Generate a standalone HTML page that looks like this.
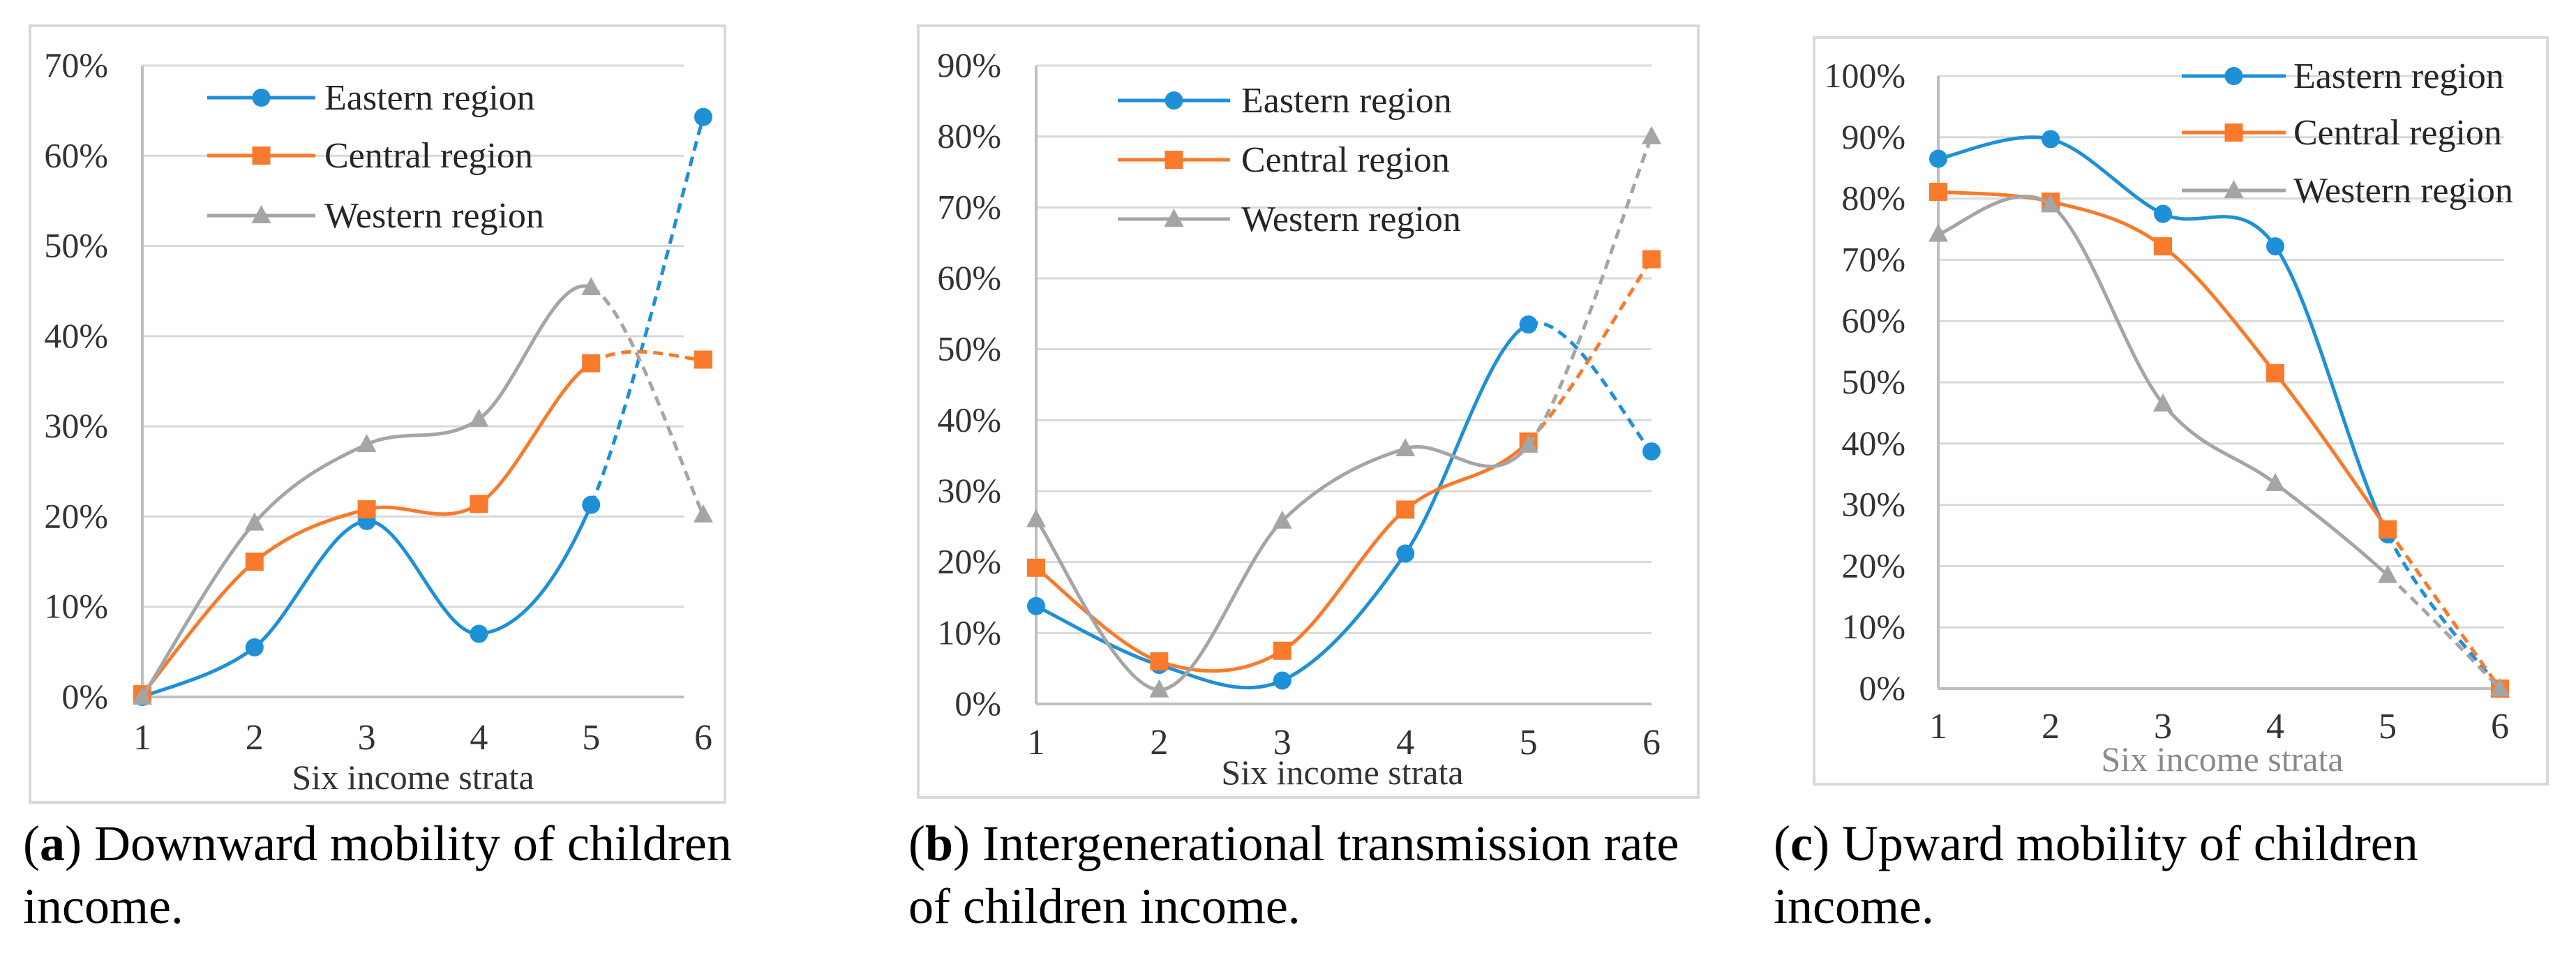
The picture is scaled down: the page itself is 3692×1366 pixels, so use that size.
<!DOCTYPE html>
<html><head><meta charset="utf-8">
<style>
html,body{margin:0;padding:0;background:#fff;}
svg{display:block;}
svg text{font-family:"Liberation Serif","DejaVu Serif",serif;}
</style></head>
<body>
<svg id="fig" width="3692" height="1366" viewBox="0 0 3692 1366" xmlns="http://www.w3.org/2000/svg" font-family="Liberation Serif, DejaVu Serif, serif"></svg>
<script>
const categories = [1, 2, 3, 4, 5, 6];
const seriesNames = ["Eastern region", "Central region", "Western region"];
// panel (a) downward mobility
const aEastern = [0, 5.5, 19.5, 7, 21.3, 64.3];
const aCentral = [0.3, 15, 20.8, 21.4, 37, 37.4];
const aWestern = [0, 19.3, 28, 30.8, 45.4, 20.2];
const aTicks = [0, 10, 20, 30, 40, 50, 60, 70];
// panel (b) intergenerational transmission rate
const bEastern = [13.8, 5.5, 3.3, 21.2, 53.5, 35.6];
const bCentral = [19.2, 6, 7.5, 27.4, 37, 62.7];
const bWestern = [26, 2, 25.8, 36, 36.5, 80];
const bTicks = [0, 10, 20, 30, 40, 50, 60, 70, 80, 90];
// panel (c) upward mobility
const cEastern = [86.5, 89.7, 77.5, 72.2, 25.2, 0];
const cCentral = [81.1, 79.5, 72.2, 51.5, 26, 0];
const cWestern = [74.2, 79, 46.5, 33.5, 18.5, 0];
const cTicks = [0, 10, 20, 30, 40, 50, 60, 70, 80, 90, 100];

const NS = "http://www.w3.org/2000/svg";
const svg = document.getElementById("fig");
const colors = ["#1E90D8", "#F97A2A", "#A5A5A5"];
const markers = ["circle", "square", "triangle"];
const FF = "Liberation Serif, DejaVu Serif, serif";

function mk(tag, attrs, parent) {
  const e = document.createElementNS(NS, tag);
  for (const k in attrs) e.setAttribute(k, attrs[k]);
  if (tag === "text") e.setAttribute("font-family", FF);
  (parent || svg).appendChild(e);
  return e;
}
function marker(g, type, x, y, color) {
  let m;
  if (type === "circle") m = mk("circle", {cx: x, cy: y, r: 13, fill: color}, g);
  else if (type === "square") m = mk("rect", {x: x - 13, y: y - 13, width: 26, height: 26, fill: color}, g);
  else m = mk("polygon", {points: `${x},${y - 15} ${x + 14},${y + 11} ${x - 14},${y + 11}`, fill: color}, g);
  return m;
}
function segPath(P, i) {
  const p0 = P[Math.max(i - 1, 0)], p1 = P[i], p2 = P[i + 1], p3 = P[Math.min(i + 2, P.length - 1)];
  const t = 6;
  const c1 = [p1[0] + (p2[0] - p0[0]) / t, p1[1] + (p2[1] - p0[1]) / t];
  const c2 = [p2[0] - (p3[0] - p1[0]) / t, p2[1] - (p3[1] - p1[1]) / t];
  return `C${c1[0]},${c1[1]} ${c2[0]},${c2[1]} ${p2[0]},${p2[1]}`;
}

function panel(cfg) {
  const g = mk("g", {});
  
  
  const fr = mk("rect", {x: cfg.frame[0], y: cfg.frame[1], width: cfg.frame[2] - cfg.frame[0], height: cfg.frame[3] - cfg.frame[1], fill: "none", stroke: "#d9d9d9", "stroke-width": 4}, g);
  
  
  const maxT = cfg.ticks[cfg.ticks.length - 1];
  const yS = v => cfg.y0 + (cfg.yTop - cfg.y0) * v / maxT;
  const xS = c => cfg.x1 + (cfg.x6 - cfg.x1) * (c - 1) / (categories.length - 1);
  cfg.ticks.forEach(t => {
    if (t > 0) {
      const gl = mk("line", {x1: cfg.x1, x2: cfg.gridEnd, y1: yS(t), y2: yS(t), stroke: "#d9d9d9", "stroke-width": 3}, g);
      
      
    }
    const tl = mk("text", {x: cfg.labelRight, y: yS(t) + 16, "text-anchor": "end", "font-size": 50, fill: "#333"}, g);
    tl.textContent = t + "%";
    
    
  });
  const xa = mk("line", {x1: cfg.x1, x2: cfg.gridEnd, y1: cfg.y0, y2: cfg.y0, stroke: "#bfbfbf", "stroke-width": 4}, g);
  
  
  const ya = mk("line", {x1: cfg.x1, x2: cfg.x1, y1: cfg.yTop, y2: cfg.y0, stroke: "#bfbfbf", "stroke-width": 4}, g);
  
  
  categories.forEach(c => {
    const t = mk("text", {x: xS(c), y: cfg.xLabelY + 17, "text-anchor": "middle", "font-size": 52, fill: "#333"}, g);
    t.textContent = c;
    
    
  });
  const xt = mk("text", {x: cfg.titleX, y: cfg.titleY + 16, "text-anchor": "middle", "font-size": 50, fill: cfg.titleColor}, g);
  xt.textContent = "Six income strata";
  
  

  cfg.series.forEach((vals, si) => {
    const P = vals.map((v, i) => [xS(categories[i]), yS(v)]);
    let d = `M${P[0][0]},${P[0][1]}`;
    for (let i = 0; i < P.length - 2; i++) d += segPath(P, i);
    const solid = mk("path", {d: d, fill: "none", stroke: colors[si], "stroke-width": 5}, g);
    
    
    const n = P.length - 2;
    const dd = `M${P[n][0]},${P[n][1]}` + segPath(P, n);
    const dash = mk("path", {d: dd, fill: "none", stroke: colors[si], "stroke-width": 5, "stroke-dasharray": "14 9"}, g);
    
    
    P.forEach(p => {
      const m = marker(g, markers[si], p[0], p[1], colors[si]);
      
      
    });
  });

  seriesNames.forEach((nm, si) => {
    const ly = cfg.legY[si];
    const ll = mk("line", {x1: cfg.legLine[0], x2: cfg.legLine[1], y1: ly, y2: ly, stroke: colors[si], "stroke-width": 5}, g);
    
    
    const lm = marker(g, markers[si], (cfg.legLine[0] + cfg.legLine[1]) / 2, ly, colors[si]);
    
    
    const lt = mk("text", {x: cfg.legText, y: ly + 17, "font-size": 52, fill: "#262626"}, g);
    lt.textContent = nm;
    
    
  });

  cfg.caption.forEach((line, i) => {
    const ct = mk("text", {x: cfg.capX, y: 1233 + i * 90, "font-size": 72, fill: "#000"}, g);
    if (i === 0) {
      const a = mk("tspan", {}, ct); a.textContent = "(";
      const b = mk("tspan", {"font-weight": "bold"}, ct); b.textContent = cfg.letter;
      const c = mk("tspan", {}, ct); c.textContent = ") " + line;
    } else ct.textContent = line;
    
    
  });
}

panel({name: "panel-a-downward-mobility", frame: [43, 37, 1039, 1150], ticks: aTicks, y0: 999, yTop: 94, x1: 204, x6: 1008, gridEnd: 980,
  labelRight: 155, xLabelY: 1057, titleX: 592, titleY: 1115, titleColor: "#333",
  series: [aEastern, aCentral, aWestern], legY: [140, 223, 309], legLine: [297, 452], legText: 465,
  capX: 33, letter: "a", caption: ["Downward mobility of children", "income."]});
panel({name: "panel-b-transmission-rate", frame: [1316, 37, 2434, 1143], ticks: bTicks, y0: 1009, yTop: 94, x1: 1485, x6: 2367, gridEnd: 2367,
  labelRight: 1435, xLabelY: 1064, titleX: 1924, titleY: 1108, titleColor: "#333",
  series: [bEastern, bCentral, bWestern], legY: [144, 229, 314], legLine: [1602, 1763], legText: 1779,
  capX: 1302, letter: "b", caption: ["Intergenerational transmission rate", "of children income."]});
panel({name: "panel-c-upward-mobility", frame: [2600, 54, 3651, 1124], ticks: cTicks, y0: 987, yTop: 109, x1: 2778, x6: 3583, gridEnd: 3589,
  labelRight: 2731, xLabelY: 1041, titleX: 3185, titleY: 1089, titleColor: "#8a8a8a",
  series: [cEastern, cCentral, cWestern], legY: [109, 190, 273], legLine: [3127, 3276], legText: 3287,
  capX: 2542, letter: "c", caption: ["Upward mobility of children", "income."]});
</script>
</body></html>
